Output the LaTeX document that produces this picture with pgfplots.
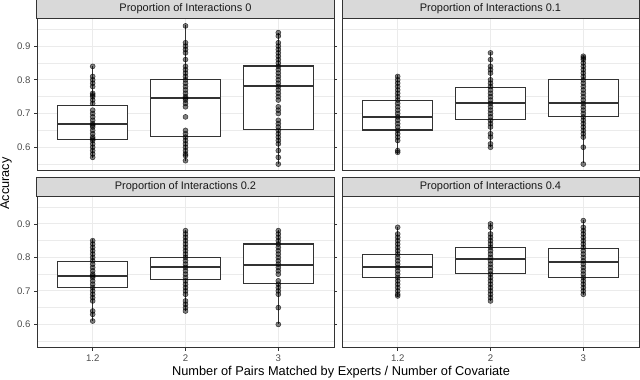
\documentclass[border=0pt]{standalone}
\usepackage{fontspec}
\setmainfont{Liberation Sans}
\usepackage{pgfplots}
\pgfplotsset{compat=1.18}
\usepgfplotslibrary{statistics}
\definecolor{gridgray}{gray}{0.92}
\definecolor{border}{gray}{0.2}
\definecolor{stripfill}{gray}{0.85}
\definecolor{ticktext}{gray}{0.3}

\pgfplotsset{
  facet/.style={
    scale only axis, width=297pt, height=152pt,
    anchor=south west,
    xmin=0.4, xmax=3.6, ymin=0.5295, ymax=0.9805,
    xtick={1,2,3}, xticklabels={1.2,2,3},
    ytick={0.6,0.7,0.8,0.9}, yticklabels={0.6,0.7,0.8,0.9},
    minor ytick={0.55,0.65,0.75,0.85,0.95},
    grid=both,
    major grid style={gridgray, line width=1pt},
    minor grid style={gridgray, line width=0.5pt},
    minor tick length=0pt,
    tick align=outside, major tick length=3pt,
    tick style={border, line width=0.8pt},
    axis line style={border, line width=1pt},
    tick label style={font=\fontsize{9.6}{11}\selectfont, text=ticktext},
    every axis title shift=0pt,
    title style={at={(0.5,1)}, anchor=south, yshift=0pt, draw=border, line width=1pt,
      fill=stripfill, minimum width=297pt, minimum height=19pt, inner sep=0pt,
      font=\fontsize{11}{13}\selectfont, text=black!90},
    boxplot/draw direction=y,
    clip=false,
  },
  notx/.style={xticklabels={}, xtick style={draw=none}},
  noty/.style={yticklabels={}, ytick style={draw=none}},
  box/.style={draw=border, fill=white, line width=1.1pt, solid,
    boxplot/every median/.style={line width=2pt}},
  pts/.style={only marks, mark=*, mark size=2.5pt,
    mark options={fill=black, draw=black, fill opacity=0.5, draw opacity=0.7, line width=0.5pt}},
}

\begin{document}
\begin{tikzpicture}
\path[use as bounding box] (0,0) rectangle (640pt,380pt);

% Proportion of Interactions 0
\begin{axis}[facet, notx, at={(37pt,209pt)}, title={Proportion of Interactions 0}]
\addplot[box, boxplot prepared={draw position=1, median=0.670, upper quartile=0.725, lower quartile=0.623, upper whisker=0.841, lower whisker=0.569, box extend=0.75, whisker extend=0}] coordinates {};
\addplot[box, boxplot prepared={draw position=2, median=0.747, upper quartile=0.800, lower quartile=0.633, upper whisker=0.963, lower whisker=0.559, box extend=0.75, whisker extend=0}] coordinates {};
\addplot[box, boxplot prepared={draw position=3, median=0.781, upper quartile=0.841, lower quartile=0.653, upper whisker=0.940, lower whisker=0.551, box extend=0.75, whisker extend=0}] coordinates {};
\addplot[pts] coordinates {
(1,0.84) (1,0.81) (1,0.80) (1,0.79) (1,0.78) (1,0.76) (1,0.755) (1,0.75) (1,0.74)
(1,0.73) (1,0.71) (1,0.70) (1,0.69) (1,0.68) (1,0.67) (1,0.665) (1,0.66) (1,0.65)
(1,0.64) (1,0.63) (1,0.625) (1,0.62) (1,0.61) (1,0.60) (1,0.59) (1,0.58) (1,0.57)
(2,0.96) (2,0.91) (2,0.90) (2,0.89) (2,0.88) (2,0.86) (2,0.84) (2,0.83) (2,0.82)
(2,0.81) (2,0.80) (2,0.79) (2,0.78) (2,0.77) (2,0.76) (2,0.75) (2,0.745) (2,0.74)
(2,0.73) (2,0.72) (2,0.69) (2,0.65) (2,0.64) (2,0.63) (2,0.62) (2,0.61) (2,0.60)
(2,0.59) (2,0.58) (2,0.575) (2,0.56)
(3,0.94) (3,0.93) (3,0.91) (3,0.90) (3,0.89) (3,0.88) (3,0.87) (3,0.86) (3,0.85)
(3,0.84) (3,0.83) (3,0.82) (3,0.81) (3,0.80) (3,0.79) (3,0.78) (3,0.77) (3,0.76)
(3,0.75) (3,0.74) (3,0.72) (3,0.71) (3,0.70) (3,0.68) (3,0.67) (3,0.66) (3,0.65)
(3,0.64) (3,0.63) (3,0.62) (3,0.61) (3,0.59) (3,0.57) (3,0.55)
};
\end{axis}

% Proportion of Interactions 0.1
\begin{axis}[facet, notx, noty, at={(342pt,209pt)}, title={Proportion of Interactions 0.1}]
\addplot[box, boxplot prepared={draw position=1, median=0.691, upper quartile=0.739, lower quartile=0.651, upper whisker=0.813, lower whisker=0.580, box extend=0.75, whisker extend=0}] coordinates {};
\addplot[box, boxplot prepared={draw position=2, median=0.731, upper quartile=0.778, lower quartile=0.682, upper whisker=0.883, lower whisker=0.600, box extend=0.75, whisker extend=0}] coordinates {};
\addplot[box, boxplot prepared={draw position=3, median=0.731, upper quartile=0.800, lower quartile=0.690, upper whisker=0.870, lower whisker=0.552, box extend=0.75, whisker extend=0}] coordinates {};
\addplot[pts] coordinates {
(1,0.81) (1,0.80) (1,0.79) (1,0.78) (1,0.77) (1,0.76) (1,0.75) (1,0.74) (1,0.73)
(1,0.72) (1,0.71) (1,0.70) (1,0.69) (1,0.68) (1,0.67) (1,0.66) (1,0.65) (1,0.64)
(1,0.63) (1,0.62) (1,0.59) (1,0.585)
(2,0.88) (2,0.86) (2,0.84) (2,0.83) (2,0.82) (2,0.80) (2,0.79) (2,0.78) (2,0.77)
(2,0.76) (2,0.75) (2,0.74) (2,0.73) (2,0.72) (2,0.71) (2,0.70) (2,0.69) (2,0.68)
(2,0.67) (2,0.66) (2,0.64) (2,0.63) (2,0.61) (2,0.60)
(3,0.87) (3,0.865) (3,0.86) (3,0.85) (3,0.84) (3,0.83) (3,0.82) (3,0.81) (3,0.80)
(3,0.79) (3,0.78) (3,0.77) (3,0.76) (3,0.75) (3,0.74) (3,0.73) (3,0.72) (3,0.71)
(3,0.70) (3,0.69) (3,0.68) (3,0.67) (3,0.66) (3,0.65) (3,0.64) (3,0.63) (3,0.60)
(3,0.55)
};
\end{axis}

% Proportion of Interactions 0.2
\begin{axis}[facet, at={(37pt,32pt)}, height=151pt, title={Proportion of Interactions 0.2}]
\addplot[box, boxplot prepared={draw position=1, median=0.746, upper quartile=0.788, lower quartile=0.711, upper whisker=0.854, lower whisker=0.611, box extend=0.75, whisker extend=0}] coordinates {};
\addplot[box, boxplot prepared={draw position=2, median=0.772, upper quartile=0.800, lower quartile=0.734, upper whisker=0.882, lower whisker=0.639, box extend=0.75, whisker extend=0}] coordinates {};
\addplot[box, boxplot prepared={draw position=3, median=0.777, upper quartile=0.840, lower quartile=0.723, upper whisker=0.882, lower whisker=0.601, box extend=0.75, whisker extend=0}] coordinates {};
\addplot[pts] coordinates {
(1,0.85) (1,0.84) (1,0.83) (1,0.82) (1,0.81) (1,0.80) (1,0.79) (1,0.78) (1,0.77)
(1,0.76) (1,0.75) (1,0.745) (1,0.74) (1,0.73) (1,0.72) (1,0.71) (1,0.70) (1,0.69)
(1,0.68) (1,0.67) (1,0.64) (1,0.63) (1,0.61)
(2,0.88) (2,0.87) (2,0.86) (2,0.85) (2,0.84) (2,0.83) (2,0.82) (2,0.81) (2,0.80)
(2,0.79) (2,0.78) (2,0.77) (2,0.76) (2,0.75) (2,0.74) (2,0.73) (2,0.72) (2,0.71)
(2,0.70) (2,0.69) (2,0.67) (2,0.66) (2,0.65) (2,0.64)
(3,0.88) (3,0.87) (3,0.86) (3,0.85) (3,0.84) (3,0.83) (3,0.82) (3,0.81) (3,0.80)
(3,0.79) (3,0.78) (3,0.77) (3,0.76) (3,0.75) (3,0.73) (3,0.72) (3,0.71) (3,0.70)
(3,0.69) (3,0.65) (3,0.60)
};
\end{axis}

% Proportion of Interactions 0.4
\begin{axis}[facet, noty, at={(342pt,32pt)}, height=151pt, title={Proportion of Interactions 0.4}]
\addplot[box, boxplot prepared={draw position=1, median=0.772, upper quartile=0.810, lower quartile=0.740, upper whisker=0.892, lower whisker=0.681, box extend=0.75, whisker extend=0}] coordinates {};
\addplot[box, boxplot prepared={draw position=2, median=0.796, upper quartile=0.831, lower quartile=0.751, upper whisker=0.904, lower whisker=0.671, box extend=0.75, whisker extend=0}] coordinates {};
\addplot[box, boxplot prepared={draw position=3, median=0.786, upper quartile=0.828, lower quartile=0.740, upper whisker=0.911, lower whisker=0.689, box extend=0.75, whisker extend=0}] coordinates {};
\addplot[pts] coordinates {
(1,0.89) (1,0.87) (1,0.86) (1,0.85) (1,0.84) (1,0.83) (1,0.82) (1,0.81) (1,0.80)
(1,0.79) (1,0.78) (1,0.77) (1,0.76) (1,0.75) (1,0.74) (1,0.73) (1,0.72) (1,0.71)
(1,0.70) (1,0.69) (1,0.685)
(2,0.90) (2,0.89) (2,0.87) (2,0.86) (2,0.85) (2,0.84) (2,0.83) (2,0.82) (2,0.81)
(2,0.80) (2,0.79) (2,0.78) (2,0.77) (2,0.76) (2,0.75) (2,0.74) (2,0.73) (2,0.72)
(2,0.71) (2,0.70) (2,0.69) (2,0.68) (2,0.67)
(3,0.91) (3,0.89) (3,0.88) (3,0.87) (3,0.86) (3,0.85) (3,0.84) (3,0.83) (3,0.82)
(3,0.81) (3,0.80) (3,0.79) (3,0.78) (3,0.77) (3,0.76) (3,0.75) (3,0.74) (3,0.73)
(3,0.72) (3,0.71) (3,0.70) (3,0.69)
};
\end{axis}

\node[rotate=90, font=\fontsize{12.7}{15}\selectfont] at (6pt,196.5pt) {Accuracy};
\node[font=\fontsize{12.8}{15}\selectfont] at (341pt,8pt) {Number of Pairs Matched by Experts / Number of Covariate};
\end{tikzpicture}
\end{document}
